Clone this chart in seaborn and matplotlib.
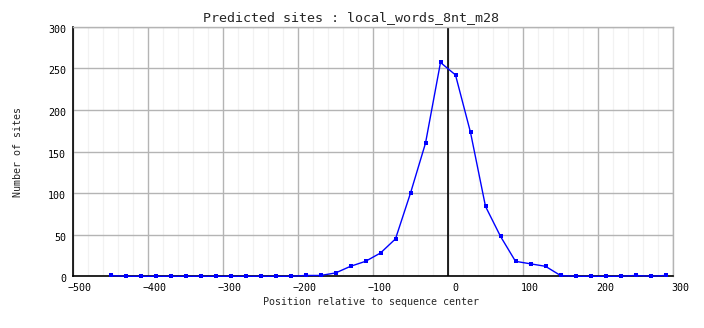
import matplotlib
matplotlib.use("Agg")
import matplotlib.pyplot as plt
import matplotlib.transforms as mtransforms
from matplotlib.ticker import MultipleLocator
import seaborn as sns
import pandas as pd

positions = [-450, -430, -410, -390, -370, -350, -330, -310, -290, -270,
             -250, -230, -210, -190, -170, -150, -130, -110, -90, -70,
             -50, -30, -10, 10, 30, 50, 70, 90, 110, 130,
             150, 170, 190, 210, 230, 250, 270, 290]
sites = [1, 0, 0, 0, 0, 0, 0, 0, 0, 0,
         0, 0, 0, 1, 1, 4, 12, 18, 28, 45,
         100, 160, 257, 242, 173, 84, 48, 18, 15, 12,
         1, 0, 0, 0, 0, 1, 0, 1]

title = "Predicted sites : local_words_8nt_m28"
xlabel = "Position relative to sequence center"
ylabel = "Number of sites"

df = pd.DataFrame({"pos": positions, "sites": sites})

sns.set_style("white")
plt.rcParams["font.family"] = ["DejaVu Sans Mono"]

fig = plt.figure(figsize=(7.04, 3.28), dpi=100)
ax = fig.add_axes([73 / 704, 1 - 276.3 / 328, 600 / 704, 249.6 / 328])

ax.set_xlim(-500, 300)
ax.set_ylim(0, 300)
ax.xaxis.set_major_locator(MultipleLocator(100))
ax.xaxis.set_minor_locator(MultipleLocator(20))
ax.yaxis.set_major_locator(MultipleLocator(50))

ax.grid(which="minor", axis="x", color="#f2f2f2", linewidth=0.9)
ax.grid(which="major", axis="both", color="#b4b4b4", linewidth=1)
ax.set_axisbelow(True)

ax.axvline(0, color="black", linewidth=1.2, zorder=2)

sns.lineplot(data=df, x="pos", y="sites", ax=ax, color="#0000ff",
             linewidth=1, marker="s", markersize=3.5, markeredgewidth=0,
             zorder=4, clip_on=False)

for side in ["top", "right"]:
    ax.spines[side].set_color("#b4b4b4")
    ax.spines[side].set_linewidth(1)
for side in ["left", "bottom"]:
    ax.spines[side].set_color("black")
    ax.spines[side].set_linewidth(1.2)

ax.tick_params(axis="both", which="both", length=0, labelsize=7.2,
               colors="black")
ax.tick_params(axis="x", pad=5)
ax.tick_params(axis="y", pad=5)

# shift tick labels slightly, as in the reference
xoff = mtransforms.ScaledTranslation(7 / 100, 0, fig.dpi_scale_trans)
for lab in ax.get_xticklabels():
    lab.set_transform(lab.get_transform() + xoff)
yoff = mtransforms.ScaledTranslation(0, -2 / 100, fig.dpi_scale_trans)
for lab in ax.get_yticklabels():
    lab.set_transform(lab.get_transform() + yoff)

ax.set_xlabel("")
ax.set_ylabel("")
fig.text(351 / 704, 1 - 18 / 328, title, ha="center", va="center",
         fontsize=9.6, family="DejaVu Sans Mono")
fig.text(371 / 704, 1 - 302 / 328, xlabel, ha="center", va="center",
         fontsize=7.2, family="DejaVu Sans Mono")
fig.text(18 / 704, 1 - 152 / 328, ylabel, ha="center", va="center",
         rotation=90, fontsize=7.2, family="DejaVu Sans Mono")

fig.savefig("out.png", dpi=100, facecolor="white")
